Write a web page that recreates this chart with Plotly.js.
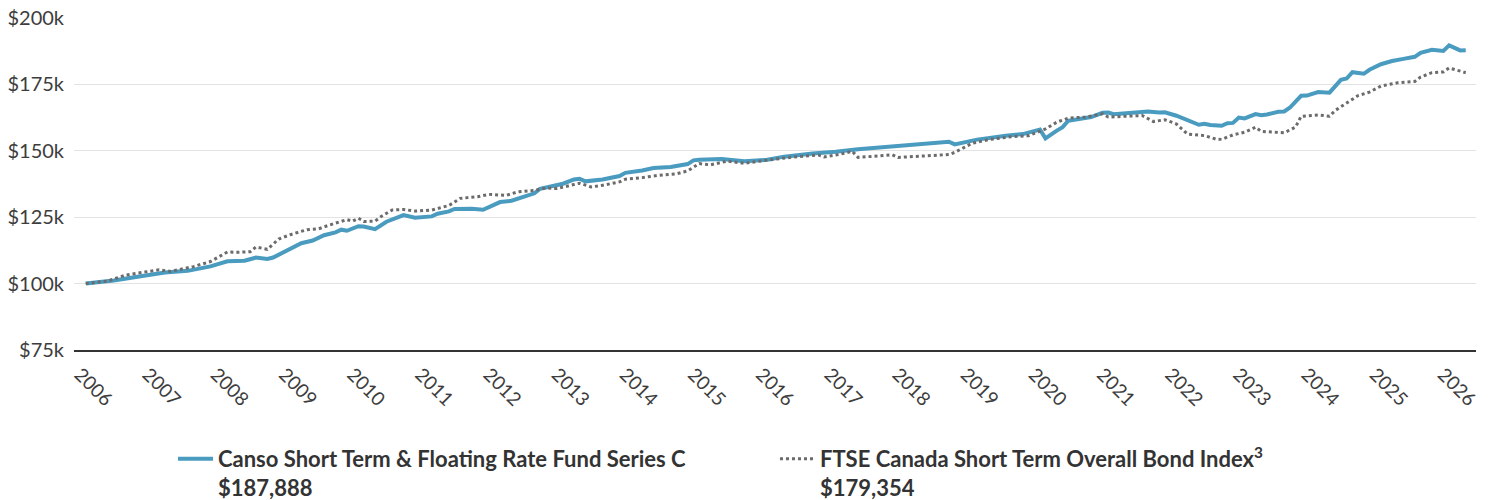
<!DOCTYPE html>
<html>
<head>
<meta charset="utf-8">
<script src="https://cdn.plot.ly/plotly-3.0.1.min.js"></script>
<style>
  html, body { margin: 0; padding: 0; background: #fff; }
  #chart { width: 1488px; height: 500px; }
</style>
</head>
<body>
<div id="chart"></div>
<script>
// Values in thousands of dollars (growth of $100k)
const fundName = "<b>Canso Short Term & Floating Rate Fund Series C<br>$187,888</b>";
const indexName = "<b>FTSE Canada Short Term Overall Bond Index<sup>3</sup><br>$179,354</b>";

const fundDates = ["2006-02","2006-07","2006-12","2007-04","2007-08","2007-12","2008-03","2008-06","2008-08","2008-10","2008-11","2009-01","2009-04","2009-06","2009-08","2009-10","2009-11","2009-12","2010-02","2010-03","2010-05","2010-07","2010-09","2010-10","2010-12","2011-03","2011-04","2011-06","2011-07","2011-10","2011-12","2012-02","2012-03","2012-05","2012-07","2012-09","2012-10","2012-12","2013-02","2013-04","2013-05","2013-06","2013-09","2013-12","2014-01","2014-04","2014-06","2014-09","2014-12","2015-01","2015-02","2015-06","2015-10","2016-02","2016-05","2016-10","2017-02","2017-06","2017-12","2018-05","2018-10","2018-11","2019-03","2019-08","2019-11","2020-02","2020-03","2020-05","2020-06","2020-07","2020-10","2020-11","2021-01","2021-02","2021-03","2021-06","2021-09","2021-11","2021-12","2022-02","2022-04","2022-06","2022-07","2022-08","2022-10","2022-11","2022-12","2023-01","2023-02","2023-04","2023-05","2023-06","2023-08","2023-09","2023-10","2023-12","2024-01","2024-03","2024-05","2024-06","2024-07","2024-08","2024-09","2024-11","2024-12","2025-02","2025-04","2025-06","2025-08","2025-09","2025-11","2026-01","2026-02","2026-04","2026-05"];
const fundValues = [100.0,101.2,102.9,104.2,104.8,106.5,108.4,108.6,109.8,109.3,109.8,112.0,115.2,116.2,118.2,119.3,120.3,119.9,121.6,121.5,120.5,123.3,125.2,125.8,124.8,125.3,126.3,127.2,128.1,128.2,127.8,129.7,130.7,131.2,132.6,134.0,135.7,136.6,137.6,139.2,139.5,138.5,139.2,140.5,141.7,142.6,143.5,143.9,145.0,146.4,146.6,146.9,146.1,146.6,147.8,149.0,149.6,150.6,151.6,152.5,153.4,152.4,154.2,155.7,156.3,158.0,154.7,157.6,158.9,161.3,162.4,162.7,164.3,164.4,163.8,164.4,164.8,164.4,164.5,163.2,161.4,159.8,160.2,159.7,159.4,160.4,160.5,162.5,162.2,163.8,163.4,163.7,164.7,164.8,166.2,170.7,170.8,172.1,171.9,174.2,176.7,177.2,179.6,179.0,180.5,182.6,183.8,184.6,185.4,186.9,188.0,187.6,189.7,187.8,187.9];

const indexDates = ["2006-02","2006-06","2006-09","2007-03","2007-05","2007-09","2007-12","2008-03","2008-05","2008-07","2008-08","2008-10","2008-12","2009-02","2009-05","2009-07","2009-09","2009-12","2010-01","2010-02","2010-03","2010-05","2010-06","2010-08","2010-10","2010-12","2011-03","2011-06","2011-08","2011-11","2012-01","2012-04","2012-06","2012-09","2012-11","2013-01","2013-04","2013-05","2013-07","2013-09","2013-12","2014-01","2014-04","2014-07","2014-10","2014-12","2015-02","2015-04","2015-07","2015-10","2016-02","2016-06","2016-11","2016-12","2017-03","2017-05","2017-06","2017-09","2017-12","2018-01","2018-05","2018-10","2018-11","2019-02","2019-05","2019-09","2019-12","2020-03","2020-05","2020-07","2020-10","2021-01","2021-02","2021-06","2021-08","2021-10","2021-12","2022-02","2022-04","2022-07","2022-09","2022-10","2022-12","2023-02","2023-04","2023-05","2023-08","2023-09","2023-11","2023-12","2024-03","2024-05","2024-06","2024-09","2024-10","2024-12","2025-02","2025-05","2025-08","2025-09","2025-11","2026-01","2026-02","2026-05"];
const indexValues = [100.0,101.0,103.2,105.2,104.6,106.4,108.3,111.9,111.8,112.0,113.8,112.9,116.8,118.4,120.3,120.6,122.1,124.1,123.5,124.6,123.4,123.5,125.2,127.7,127.9,127.3,127.7,129.4,132.1,132.7,133.6,133.2,134.5,135.1,136.0,135.8,137.3,137.8,136.4,137.0,138.3,139.3,139.9,140.8,141.3,142.4,145.2,144.7,146.1,145.3,146.5,147.5,148.4,147.7,148.8,149.8,147.5,147.9,148.5,147.5,148.1,148.6,149.4,152.8,154.2,155.3,155.7,158.2,160.8,162.3,162.7,163.9,162.7,163.0,163.3,161.0,161.7,160.1,156.3,155.7,154.4,154.3,156.0,157.0,158.9,157.3,157.0,156.8,158.9,163.0,163.5,163.0,165.2,169.6,170.8,172.1,174.4,175.6,176.1,177.8,179.4,179.7,181.2,179.4];

const yTicks = [75, 100, 125, 150, 175, 200];
const yTickText = yTicks.map(v => "$" + v + "k");

const traces = [
  {
    x: fundDates, y: fundValues, type: "scatter", mode: "lines", name: fundName,
    line: { color: "#4a9bc0", width: 4 }
  },
  {
    x: indexDates, y: indexValues, type: "scatter", mode: "lines", name: indexName,
    line: { color: "#6b6b6b", width: 3, dash: "dot" }
  }
];

const layout = {
  width: 1488, height: 500,
  margin: { l: 74, r: 12, t: 18, b: 150, autoexpand: false },
  paper_bgcolor: "#fff", plot_bgcolor: "#fff",
  font: { family: "Lato, 'Open Sans', sans-serif", size: 19, color: "#3d3d3d" },
  showlegend: true,
  xaxis: {
    type: "date",
    range: ["2005-11-30", "2026-06-25"],
    tick0: "2006-01-01", dtick: "M12", tickformat: "%Y",
    tickangle: 45,
    showgrid: false, zeroline: false,
    showline: true, linecolor: "#333", linewidth: 2,
    ticks: "", ticklabelstandoff: 4,
    tickfont: { size: 19, color: "#3d3d3d" }
  },
  yaxis: {
    range: [75, 200],
    tickmode: "array", tickvals: yTicks, ticktext: yTickText,
    showgrid: true, gridcolor: "#e3e3e3", gridwidth: 1,
    zeroline: false, showline: false, ticks: "",
    ticklabelstandoff: 9,
    tickfont: { size: 20, color: "#3d3d3d" }
  },
  legend: {
    orientation: "h", x: 0.0706, xanchor: "left", y: -0.265, yanchor: "top",
    valign: "top", entrywidth: 552, itemwidth: 35,
    font: { size: 22, color: "#333" }
  }
};

Plotly.newPlot("chart", traces, layout, { displayModeBar: false, staticPlot: true });
</script>
</body>
</html>
